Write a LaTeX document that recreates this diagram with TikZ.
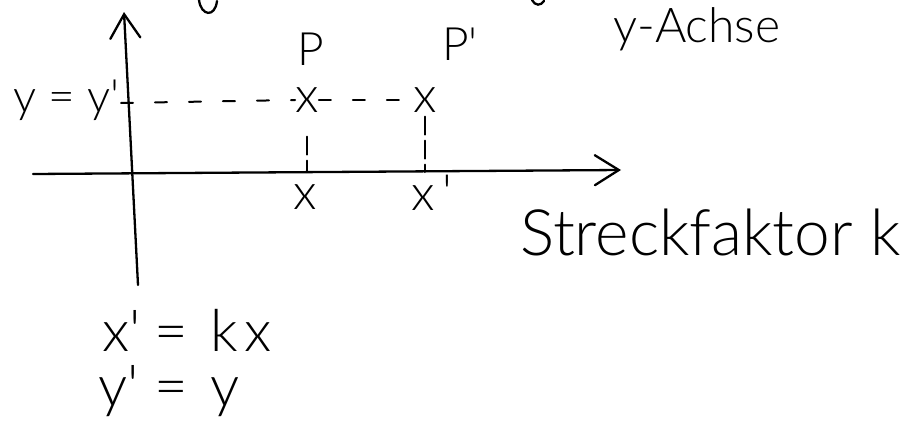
\documentclass[tikz,border=0pt]{standalone}
\usepackage{fontspec}
\setmainfont{Lato}[UprightFont=* Light]
\usetikzlibrary{arrows.meta, positioning, calc}

\begin{document}
\begin{tikzpicture}[x=1pt, y=-1pt,
				axis/.style={line width=2.3pt, line cap=round, -{Straight Barb[length=24pt, width=30pt, line cap=round]}},
				guide/.style={line width=2pt, line cap=round, dash pattern=on 12pt off 22pt},
				vguide/.style={line width=2pt, line cap=round, dash pattern=on 18pt off 6pt},
				ink/.style={line width=2.3pt, line cap=round},
				lbl/.style={inner sep=0pt, anchor=base west, font=\fontsize{46}{46}\selectfont},
				ptmark/.style={inner sep=0pt, anchor=center, font=\fontsize{50}{50}\selectfont}
				]
				\useasboundingbox (0,0) rectangle (909,423);
				\clip (0,0) rectangle (909,423);
				
				% Axes
				\coordinate (ybot) at (138,285);
				\coordinate (ytop) at (124,12);
				\coordinate (xl) at (33,174);
				\coordinate (xr) at (621,170);
				\coordinate (O) at (136,172);
				\draw[axis] (ybot) -- (ytop);
				\draw[axis] (xl) -- (xr);
				
				% Points P and P'
				\node[ptmark] (ptP) at (307,100) {x};
				\node[ptmark] (ptQ) at (425,100) {x};
				\node[lbl] (labP) at (297,65) {P};
				\node[lbl] (labQ) at (442,60) {P\textquotesingle};
				
				% Guide lines
				\coordinate (yy) at (121,103);
				\draw[guide] (yy) -- (ptP.west);
				\draw[guide] (ptP.east) -- (ptQ.west);
				\draw[vguide, shorten <=24pt] (ptP.south) -- (ptP |- O);
				\draw[vguide, shorten <=4pt] (ptQ.south) -- (ptQ |- O);
				
				% Axis labels
				\node[lbl, anchor=base east] (labyy) at (120,112) {y = y\textquotesingle};
				\node[ptmark] (labx) at (305,197) {x};
				\node[ptmark] (labxq) at (432,193) {x\,\textquotesingle};
				\node[lbl, font=\fontsize{48}{48}\selectfont] (yach) at (613,42) {y-Achse};
				\node[lbl, font=\fontsize{64}{64}\selectfont] (streck) at (520,255) {Streckfaktor k};
				
				% Equations
				\node[lbl, font=\fontsize{58}{58}\selectfont] (eqx) at (102,351) {x\textquotesingle\hspace{14pt}=\hspace{22pt}k\hspace{6pt}x};
				\node[lbl, font=\fontsize{58}{58}\selectfont] (eqy) at (98,406) {y\textquotesingle\hspace{16pt}=\hspace{22pt}y};
				
				% cut off strokes at the top
				\draw[ink] (199,0) .. controls (201,16) and (215,18) .. (217,1);
				\draw[ink] (532,0) .. controls (535,6) and (541,6) .. (544,1);
			\end{tikzpicture}
\end{document}
